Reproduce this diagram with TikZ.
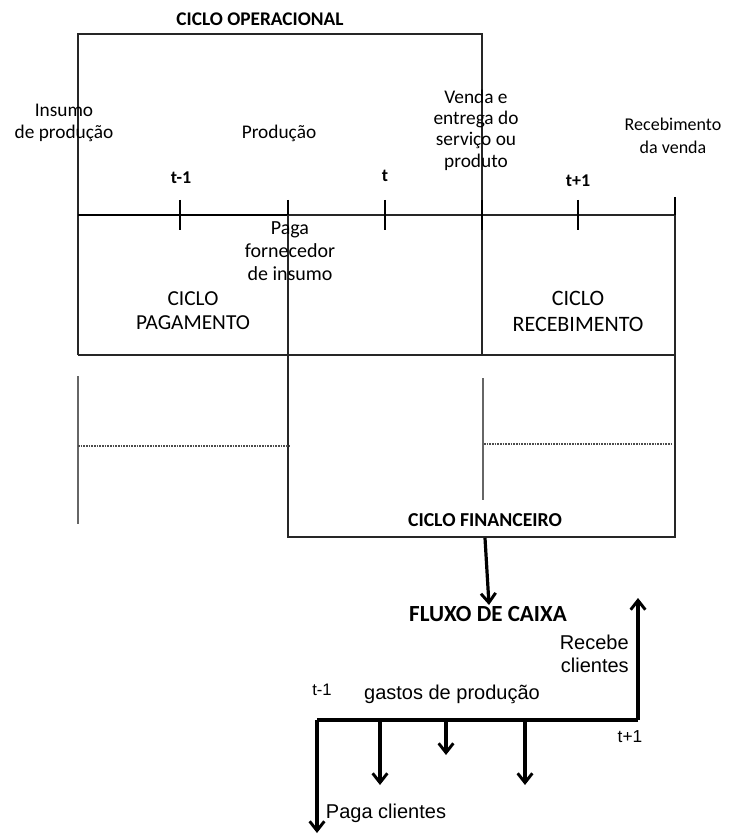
\documentclass[tikz,border=0pt]{standalone}
\usepackage{fontspec}
\setmainfont{Carlito}
\newfontfamily\arialf{Liberation Sans}
\usetikzlibrary{arrows.meta}
\tikzset{
  frame/.style={draw=black!85, line width=0.9pt},
  thinv/.style={draw=black!60, line width=0.8pt},
  dotl/.style={draw=black!70, line width=0.8pt, dash pattern=on 1.2pt off 0.8pt},
  tick/.style={draw=black, line width=2.2pt},
  lbl/.style={align=center, inner sep=0pt, font=\fontsize{14.5}{16}\selectfont},
  blbl/.style={inner sep=0pt, font=\fontsize{14.5}{16}\selectfont\bfseries},
  albl/.style={inner sep=0pt, font=\arialf\fontsize{15}{17}\selectfont},
  flow/.style={draw=black, line width=2.4pt, -{Straight Barb[length=7pt,width=11pt,line width=2.2pt]}},
  flowline/.style={draw=black, line width=2.4pt}
}
\begin{document}
\begin{tikzpicture}[x=0.75pt,y=-0.75pt]
\useasboundingbox (0,0) rectangle (741,834);
% coordinates
\coordinate (oTL) at (78,34);
\coordinate (oTR) at (482,34);
\coordinate (L0) at (78,215);
\coordinate (Lm) at (288,215);
\coordinate (L1) at (675,215);
\coordinate (bL) at (78,355);
\coordinate (bR) at (675,355);
\coordinate (vR) at (482,355);
\coordinate (fTL) at (288,215);
\coordinate (fBL) at (288,537);
\coordinate (fBR) at (675,537);
% operational frame
\draw[frame] (bL) -- (oTL) -- (oTR) -- (vR);
% timeline
\draw[frame] (Lm) -- (L1);
\draw[draw=black, line width=1.8pt] (L0) -- (Lm);
\foreach \x/\n in {180/a,288/b,385/c,482/d,578/e}{
  \coordinate (t\n1) at (\x,200); \coordinate (t\n2) at (\x,230);
  \draw[tick] (t\n1) -- (t\n2);
}
\coordinate (tf1) at (675,197); \coordinate (tf2) at (675,228);
\draw[tick] (tf1) -- (tf2);
% lower boxes
\draw[frame] (bL) -- (bR);
\draw[frame] (L1) -- (fBR) -- (fBL) -- (fTL);
% thin verticals and dotted lines
\coordinate (va1) at (78,376); \coordinate (va2) at (78,524);
\coordinate (vb1) at (483,378); \coordinate (vb2) at (483,500);
\draw[thinv] (va1) -- (va2);
\draw[thinv] (vb1) -- (vb2);
\coordinate (da1) at (78,446); \coordinate (da2) at (291,446);
\coordinate (db1) at (484,444); \coordinate (db2) at (671,444);
\draw[dotl] (da1) -- (da2);
\draw[dotl] (db1) -- (db2);
% texts top
\node[blbl] (co) at (260,19) {CICLO OPERACIONAL};
\node[lbl] (ins) at (64,123) {Insumo\\de produção};
\node[lbl] (prod) at (279,133) {Produção};
\node[lbl] (venda) at (476,130) {Venda e\\entrega do\\serviço ou\\produto};
\node[lbl, font=\fontsize{13.5}{17}\selectfont] (rec) at (673,136) {Recebimento\\da venda};
\node[blbl, font=\fontsize{13.5}{16}\selectfont\bfseries] (tm1) at (181,178) {t-1};
\node[blbl, font=\fontsize{13.5}{16}\selectfont\bfseries] (t0) at (385,176) {t};
\node[blbl, font=\fontsize{13.5}{16}\selectfont\bfseries] (tp1) at (578,181) {t+1};
\node[lbl, font=\fontsize{15}{17}\selectfont] (paga) at (290,251) {Paga\\fornecedor\\de insumo};
\node[lbl, font=\fontsize{16}{18}\selectfont] (cpag) at (193,311) {CICLO\\PAGAMENTO};
\node[lbl, font=\fontsize{16.5}{19.5}\selectfont] (crec) at (578,311) {CICLO\\RECEBIMENTO};
\node[blbl, font=\fontsize{14.8}{16}\selectfont\bfseries] (cfin) at (485,520) {CICLO FINANCEIRO};
% cash flow
\node[inner sep=0pt, font=\fontsize{17.3}{19}\selectfont\bfseries] (fc) at (488,614) {FLUXO DE CAIXA};
\coordinate (arrS) at (485,538);
\coordinate (arrE) at (489,605);
\draw[flow] (arrS) -- (arrE);
\coordinate (c0) at (317,720);
\coordinate (c1) at (638,720);
\coordinate (cup) at (638,598);
\coordinate (cdn) at (317,833);
\draw[flowline] (c1) -- (c0);
\draw[flow] (c1) -- (cup);
\draw[flow] (c0) -- (cdn);
\coordinate (g1) at (380,720); \coordinate (g1e) at (380,785);
\coordinate (g2) at (446,720); \coordinate (g2e) at (446,755);
\coordinate (g3) at (525,720); \coordinate (g3e) at (525,785);
\draw[flow] (g1) -- (g1e);
\draw[flow] (g2) -- (g2e);
\draw[flow] (g3) -- (g3e);
\node[albl, font=\arialf\fontsize{12.5}{14}\selectfont] (ftm1) at (322,690) {t-1};
\node[albl] (gastos) at (452,694) {gastos de produção};
\node[albl, align=right, font=\arialf\fontsize{15}{17.5}\selectfont, anchor=east] (receb) at (629,654) {Recebe\\clientes};
\node[albl, font=\arialf\fontsize{13}{14}\selectfont] (ftp1) at (630,737) {t+1};
\node[albl] (pagac) at (386,813) {Paga clientes};
\end{tikzpicture}
\end{document}
